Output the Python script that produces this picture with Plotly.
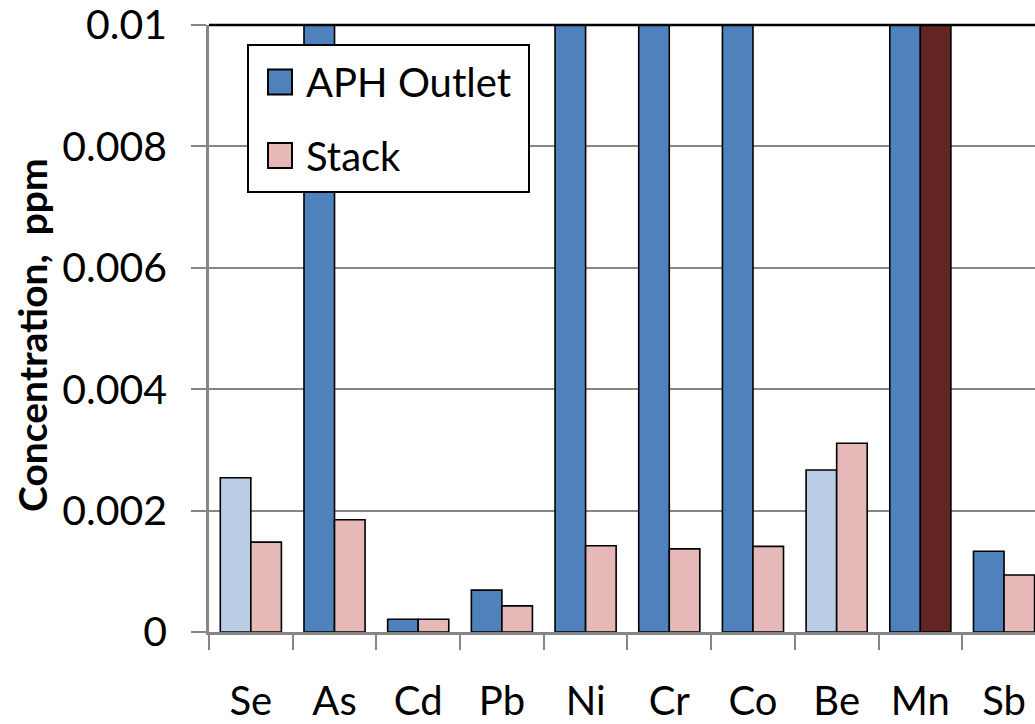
import plotly.graph_objects as go

elements = ["Se", "As", "Cd", "Pb", "Ni", "Cr", "Co", "Be", "Mn", "Sb"]
aph_outlet = [0.00254, 0.0125, 0.00021, 0.00069, 0.0125, 0.0125, 0.0125, 0.00267, 0.0125, 0.00133]
stack = [0.00148, 0.00185, 0.00021, 0.00043, 0.00142, 0.00137, 0.00141, 0.00311, 0.0125, 0.00094]

BLUE = "#4F81BD"
LIGHT_BLUE = "#B9CDE5"
PINK = "#E6B9B8"
DARK_RED = "#632523"
GRID = "#868686"
FONT = "Lato"

aph_colors = [LIGHT_BLUE if e in ("Se", "Be") else BLUE for e in elements]
stack_colors = [DARK_RED if e == "Mn" else PINK for e in elements]

W, H = 1035, 724
L, R, T, B = 209, 0, 25, 92
PW, PH = W - L - R, H - T - B


def px(x, y):
    # screen pixel coords -> paper coords
    return (x - L) / PW, (H - B - y) / PH


fig = go.Figure()
fig.add_trace(go.Bar(x=elements, y=aph_outlet, name="APH Outlet",
                     marker=dict(color=aph_colors, line=dict(color="black", width=1.6))))
fig.add_trace(go.Bar(x=elements, y=stack, name="Stack",
                     marker=dict(color=stack_colors, line=dict(color="black", width=1.6))))

shapes = [dict(type="line", xref="paper", yref="paper", x0=0, x1=1, y0=1, y1=1,
               line=dict(color="black", width=2.5), layer="above")]

# legend drawn by hand so the swatches keep their size
x0, y0 = px(248, 45)
x1, y1 = px(529, 192)
shapes.append(dict(type="rect", xref="paper", yref="paper", x0=x0, x1=x1, y0=y0, y1=y1,
                   fillcolor="white", line=dict(color="black", width=2), layer="above"))
annotations = []
for name, col, cy in [("APH Outlet", BLUE, 82), ("Stack", PINK, 155.5)]:
    sx0, sy0 = px(268, cy - 12.5)
    sx1, sy1 = px(292, cy + 12.5)
    shapes.append(dict(type="rect", xref="paper", yref="paper", x0=sx0, x1=sx1, y0=sy0, y1=sy1,
                       fillcolor=col, line=dict(color="black", width=2), layer="above"))
    tx, ty = px(304, cy)
    annotations.append(dict(text=name, xref="paper", yref="paper", x=tx, y=ty,
                            xanchor="left", yanchor="middle", showarrow=False,
                            font=dict(family=FONT, size=40, color="black")))

ax, ay = px(32, 335)
annotations.append(dict(text="<b>Concentration,  ppm</b>", xref="paper", yref="paper",
                        x=ax, y=ay, xanchor="center", yanchor="middle", textangle=-90,
                        showarrow=False, font=dict(family=FONT, size=39, color="black")))

fig.update_layout(
    width=W, height=H,
    margin=dict(l=L, r=R, t=T, b=B, pad=0, autoexpand=False),
    paper_bgcolor="white", plot_bgcolor="white",
    barmode="group", bargap=0.27, bargroupgap=0,
    showlegend=False,
    shapes=shapes, annotations=annotations,
    font=dict(family=FONT, size=40, color="black"),
)
fig.update_xaxes(
    type="category", range=[-0.5, 9.37], tickson="boundaries", automargin=False,
    ticks="outside", ticklen=15, tickwidth=2, tickcolor=GRID,
    showline=True, linecolor=GRID, linewidth=3, showgrid=False,
    ticklabelstandoff=32, tickfont=dict(family=FONT, size=40),
)
fig.update_yaxes(
    range=[0, 0.01], dtick=0.002, tickformat="~g", automargin=False,
    ticks="outside", ticklen=15, tickwidth=2, tickcolor=GRID,
    showline=True, linecolor=GRID, linewidth=2.5,
    showgrid=True, gridcolor=GRID, gridwidth=2, zeroline=False,
    ticklabelstandoff=16, ticklabeloverflow="allow", tickfont=dict(family=FONT, size=41),
)

config = {'displayModeBar': False}
# drop the default 8px body margin so the figure fills the window exactly
fig.write_html("out.html", config=config, post_script="document.body.style.margin = '0';")
